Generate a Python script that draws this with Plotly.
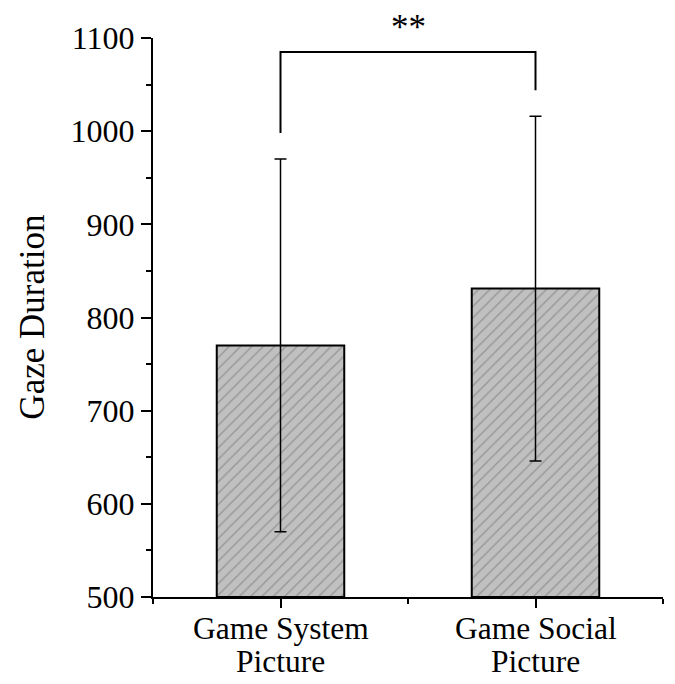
import plotly.graph_objects as go

# ---- data ----
categories_line1 = ["Game System", "Game Social"]
categories_line2 = ["Picture", "Picture"]
means = [770, 831]
errors = [200, 185]
y_tick_values = [500, 600, 700, 800, 900, 1000, 1100]
significance = "**"

FONT = "Liberation Serif, Times New Roman, serif"
x_pos = list(range(len(means)))

fig = go.Figure()
fig.add_trace(go.Bar(
    x=x_pos, y=[m - 500 for m in means], base=500,
    width=0.5,
    marker=dict(
        color="#c0c0c0",
        line=dict(color="black", width=2),
        pattern=dict(shape="/", fgcolor="#6e6e6e", bgcolor="#c0c0c0",
                     size=8, solidity=0.18),
    ),
    error_y=dict(type="data", array=errors, visible=True,
                 color="black", thickness=1.5, width=6),
    hoverinfo="skip",
))

# significance bracket
gap = 28
bracket_top = 1085
left_end = means[0] + errors[0] + gap
right_end = means[1] + errors[1] + gap
fig.add_shape(type="path",
              path=f"M {x_pos[0]},{left_end} L {x_pos[0]},{bracket_top} "
                   f"L {x_pos[1]},{bracket_top} L {x_pos[1]},{right_end}",
              xref="x", yref="y", line=dict(color="black", width=2))
fig.add_annotation(x=(x_pos[0] + x_pos[1]) / 2, y=bracket_top, xref="x", yref="y",
                   text=significance, showarrow=False, yanchor="bottom", yshift=3,
                   font=dict(family=FONT, size=35, color="black"))

# category labels (two lines)
for xi, l1, l2 in zip(x_pos, categories_line1, categories_line2):
    fig.add_annotation(x=xi, y=0, xref="x", yref="paper", text=l1,
                       showarrow=False, yanchor="top", yshift=-12,
                       font=dict(family=FONT, size=31.5, color="black"))
    fig.add_annotation(x=xi, y=0, xref="x", yref="paper", text=l2,
                       showarrow=False, yanchor="top", yshift=-45,
                       font=dict(family=FONT, size=31.5, color="black"))

# y-axis title
fig.add_annotation(x=-0.237, y=0.5, xref="paper", yref="paper",
                   text="Gaze Duration", textangle=-90, showarrow=False,
                   xanchor="center", yanchor="middle",
                   font=dict(family=FONT, size=35, color="black"))

fig.update_layout(
    width=675, height=684,
    margin=dict(l=145, r=20, t=27, b=95),
    paper_bgcolor="white", plot_bgcolor="white",
    showlegend=False,
    font=dict(family=FONT, color="black"),
    xaxis=dict(
        range=[-0.5, 1.5], tickvals=x_pos, ticktext=["", ""],
        showline=True, linecolor="black", linewidth=2,
        ticks="outside", ticklen=9, tickwidth=2, tickcolor="black",
        showgrid=False, zeroline=False,
        minor=dict(tick0=-0.5, dtick=1, ticks="outside", ticklen=5,
                   tickwidth=2, tickcolor="black", showgrid=False),
    ),
    yaxis=dict(
        range=[500, 1100], tickvals=y_tick_values,
        showline=True, linecolor="black", linewidth=2,
        ticks="outside", ticklen=10, tickwidth=2, tickcolor="black",
        showgrid=False, zeroline=False,
        tickfont=dict(family=FONT, size=32, color="black"),
        minor=dict(dtick=50, ticks="outside", ticklen=5,
                   tickwidth=2, tickcolor="black", showgrid=False),
    ),
)

fig.write_html("out.html")
